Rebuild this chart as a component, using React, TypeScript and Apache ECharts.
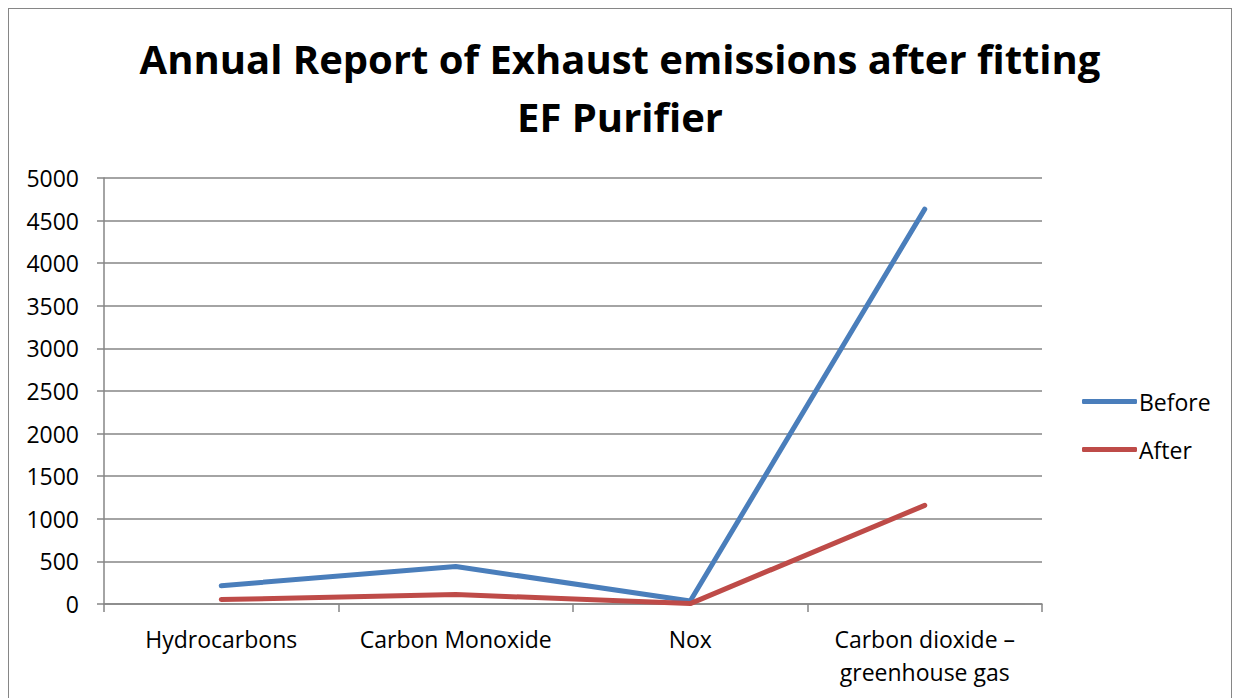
import React, { useEffect, useRef } from "react";
import * as echarts from "echarts";

const categories = ["Hydrocarbons", "Carbon Monoxide", "Nox", "Carbon dioxide –\ngreenhouse gas"];
const beforeValues = [215, 440, 35, 4635];
const afterValues = [52, 112, 5, 1158];
const titleText = "Annual Report of Exhaust emissions after fitting\nEF Purifier";

const FONT = "'Open Sans', Lato, sans-serif";

export default function App() {
  const ref = useRef<HTMLDivElement>(null);
  useEffect(() => {
    if (!ref.current) return;
    const chart = echarts.init(ref.current, undefined, { renderer: "svg" });
    chart.setOption({
      animation: false,
      backgroundColor: "#ffffff",
      textStyle: { fontFamily: FONT },
      title: {
        text: titleText,
        left: "center",
        top: 16,
        textStyle: { fontSize: 40, fontWeight: "bold", color: "#000", lineHeight: 58, fontFamily: FONT },
      },
      legend: {
        orient: "vertical",
        left: 1074,
        top: 382,
        padding: 0,
        itemWidth: 55,
        itemHeight: 5,
        itemGap: 25,
        icon: "roundRect",
        textStyle: { fontSize: 23, color: "#000", fontFamily: FONT, padding: [0, 0, 0, -3] },
        data: ["Before", "After"],
      },
      grid: { left: 96, right: 190, top: 170, bottom: 86 },
      xAxis: {
        type: "category",
        data: categories,
        boundaryGap: true,
        axisLine: { lineStyle: { color: "#868686", width: 1.5 } },
        axisTick: { show: true, alignWithLabel: false, length: 8, lineStyle: { color: "#868686", width: 1.5 } },
        axisLabel: { fontSize: 23, color: "#000", margin: 18, lineHeight: 33, fontFamily: FONT, interval: 0 },
      },
      yAxis: {
        type: "value",
        min: 0,
        max: 5000,
        interval: 500,
        axisLine: { show: true, lineStyle: { color: "#868686", width: 1.5 } },
        axisTick: { show: true, length: 7, lineStyle: { color: "#868686", width: 1.5 } },
        splitLine: { lineStyle: { color: "#868686", width: 1.5 } },
        axisLabel: { fontSize: 23, color: "#000", margin: 25, fontFamily: FONT, formatter: (v: number) => String(v) },
      },
      series: [
        {
          name: "Before",
          type: "line",
          data: beforeValues,
          showSymbol: false,
          symbol: "none",
          color: "#4a7ebb",
          lineStyle: { color: "#4a7ebb", width: 5, cap: "round", join: "round" },
        },
        {
          name: "After",
          type: "line",
          data: afterValues,
          showSymbol: false,
          symbol: "none",
          color: "#be4b48",
          lineStyle: { color: "#be4b48", width: 5, cap: "round", join: "round" },
        },
      ],
    });
    return () => chart.dispose();
  }, []);
  return (
    <div
      style={{
        position: "fixed",
        left: 8,
        top: 8,
        width: 1222,
        height: 720,
        borderLeft: "1.5px solid #868686",
        borderTop: "1.5px solid #868686",
        borderRight: "1.5px solid #868686",
        overflow: "hidden",
        background: "#fff",
      }}
    >
      <div ref={ref} style={{ position: "absolute", left: -1.5, top: -1.5, width: 1224, height: 682 }} />
    </div>
  );
}
